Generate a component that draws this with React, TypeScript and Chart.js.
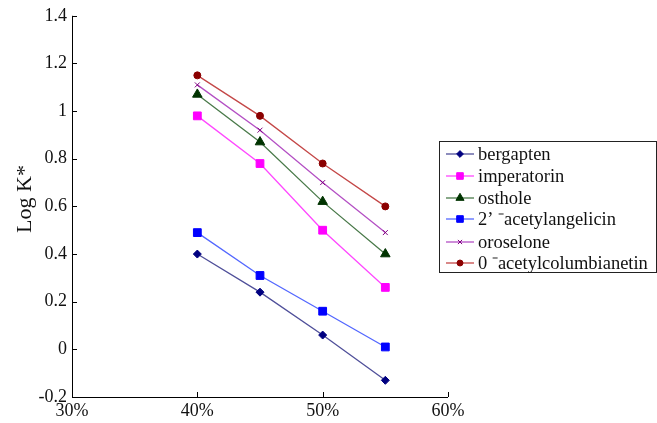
import React, { useEffect, useRef } from "react";
import { Chart, registerables } from "chart.js";
import { drawPoint } from "chart.js/helpers";

Chart.register(...registerables);

const xValues = [40, 45, 50, 55];
const seriesNames = [
  "bergapten",
  "imperatorin",
  "osthole",
  "2\u2019 \u207Bacetylangelicin",
  "oroselone",
  "0 \u207Bacetylcolumbianetin",
];
const bergapten = [0.4, 0.24, 0.06, -0.13];
const imperatorin = [0.98, 0.78, 0.5, 0.26];
const osthole = [1.07, 0.87, 0.62, 0.4];
const acetylangelicin = [0.49, 0.31, 0.16, 0.01];
const oroselone = [1.11, 0.92, 0.7, 0.49];
const acetylcolumbianetin = [1.15, 0.98, 0.78, 0.6];
const yTicks = [-0.2, 0, 0.2, 0.4, 0.6, 0.8, 1, 1.2, 1.4];
const xTicks = [30, 40, 50, 60];
const yTitle = "Log K*";

const seriesValues = [bergapten, imperatorin, osthole, acetylangelicin, oroselone, acetylcolumbianetin];
const lineColors = ["#50509a", "#ff48ff", "#4a7a4a", "#5468ff", "#b450c4", "#c44848"];
const markerColors = ["#000080", "#ff00ff", "#003300", "#0000ff", "#800080", "#8b0000"];
const markerStyles = ["rectRot", "rect", "triangle", "rect", "crossRot", "circle"];
const markerRadius = [4, 5.5, 5.5, 5.5, 3.5, 3.5];

const FONT = "'Liberation Serif', 'Times New Roman', serif";

const axesPlugin = {
  id: "customAxes",
  afterDraw(chart: any) {
    const ctx = chart.ctx;
    const { left, right, top, bottom } = chart.chartArea;
    const xs = chart.scales.x;
    const ys = chart.scales.y;
    ctx.save();
    ctx.strokeStyle = "#000";
    ctx.lineWidth = 1;
    ctx.beginPath();
    ctx.moveTo(Math.round(left) + 0.5, top);
    ctx.lineTo(Math.round(left) + 0.5, Math.round(bottom) + 0.5);
    ctx.lineTo(right, Math.round(bottom) + 0.5);
    yTicks.forEach((v) => {
      const y = Math.round(ys.getPixelForValue(v)) + 0.5;
      ctx.moveTo(left, y);
      ctx.lineTo(left + 5, y);
    });
    xTicks.forEach((v) => {
      const x = Math.round(xs.getPixelForValue(v)) + 0.5;
      ctx.moveTo(x, bottom);
      ctx.lineTo(x, bottom - 5);
    });
    ctx.stroke();

    // y title
    ctx.save();
    ctx.translate(25, 199);
    ctx.rotate(-Math.PI / 2);
    ctx.font = `22px ${FONT}`;
    ctx.fillStyle = "#111";
    ctx.textAlign = "center";
    ctx.textBaseline = "middle";
    ctx.fillText(yTitle, 0, 0);
    ctx.restore();

    // legend
    const bx = 439.5, by = 141.5, bw = 217, bh = 131;
    ctx.strokeStyle = "#222";
    ctx.strokeRect(bx, by, bw, bh);
    ctx.font = `18.5px ${FONT}`;
    ctx.textBaseline = "middle";
    ctx.textAlign = "left";
    const rowYs = [154, 176, 198, 219, 242, 263];
    seriesNames.forEach((name, i) => {
      const y = rowYs[i];
      ctx.strokeStyle = lineColors[i];
      ctx.lineWidth = 1.3;
      ctx.beginPath();
      ctx.moveTo(446, y);
      ctx.lineTo(474, y);
      ctx.stroke();
      ctx.fillStyle = markerColors[i];
      ctx.strokeStyle = markerColors[i];
      ctx.lineWidth = 1;
      drawPoint(ctx, { pointStyle: markerStyles[i], radius: markerRadius[i] * 0.85, rotation: 0, borderWidth: 1 }, 460, y);
      ctx.fillStyle = "#111";
      ctx.fillText(name, 478, y + 1);
    });
    ctx.restore();
  },
};

export default function App() {
  const ref = useRef<HTMLCanvasElement>(null);
  useEffect(() => {
    document.body.style.margin = "0";
    const datasets = seriesNames.map((name, i) => ({
      label: name,
      data: xValues.map((x, j) => ({ x, y: seriesValues[i][j] })),
      borderColor: lineColors[i],
      borderWidth: 1.3,
      pointStyle: markerStyles[i],
      pointRadius: markerRadius[i],
      pointBackgroundColor: markerColors[i],
      pointBorderColor: markerColors[i],
      pointBorderWidth: 1,
      fill: false,
      tension: 0,
    }));
    const chart = new Chart(ref.current!, {
      type: "line",
      data: { datasets },
      plugins: [axesPlugin],
      options: {
        animation: false,
        responsive: false,
        maintainAspectRatio: false,
        layout: { padding: { left: 0, right: 209, top: 15, bottom: 0 } },
        plugins: { legend: { display: false }, tooltip: { enabled: false } },
        scales: {
          x: {
            type: "linear",
            min: 30,
            max: 60,
            afterBuildTicks: (s: any) => {
              s.ticks = xTicks.map((v) => ({ value: v }));
            },
            afterFit: (s: any) => {
              s.height = 26;
            },
            grid: { display: false, drawTicks: false },
            border: { display: false },
            ticks: {
              padding: 3,
              maxRotation: 0,
              color: "#111",
              font: { family: FONT, size: 18 },
              callback: (v: any) => `${v}%`,
            },
          },
          y: {
            type: "linear",
            min: -0.2,
            max: 1.4,
            afterBuildTicks: (s: any) => {
              s.ticks = yTicks.map((v) => ({ value: v }));
            },
            afterFit: (s: any) => {
              s.width = 72;
            },
            grid: { display: false, drawTicks: false },
            border: { display: false },
            ticks: {
              padding: 5,
              color: "#111",
              font: { family: FONT, size: 18 },
              callback: (v: any) => `${Math.round(v * 10) / 10}`,
            },
          },
        },
      },
    });
    return () => chart.destroy();
  }, []);
  return (
    <div style={{ width: 657, height: 423 }}>
      <canvas ref={ref} width={657} height={423} style={{ width: 657, height: 423 }} />
    </div>
  );
}
